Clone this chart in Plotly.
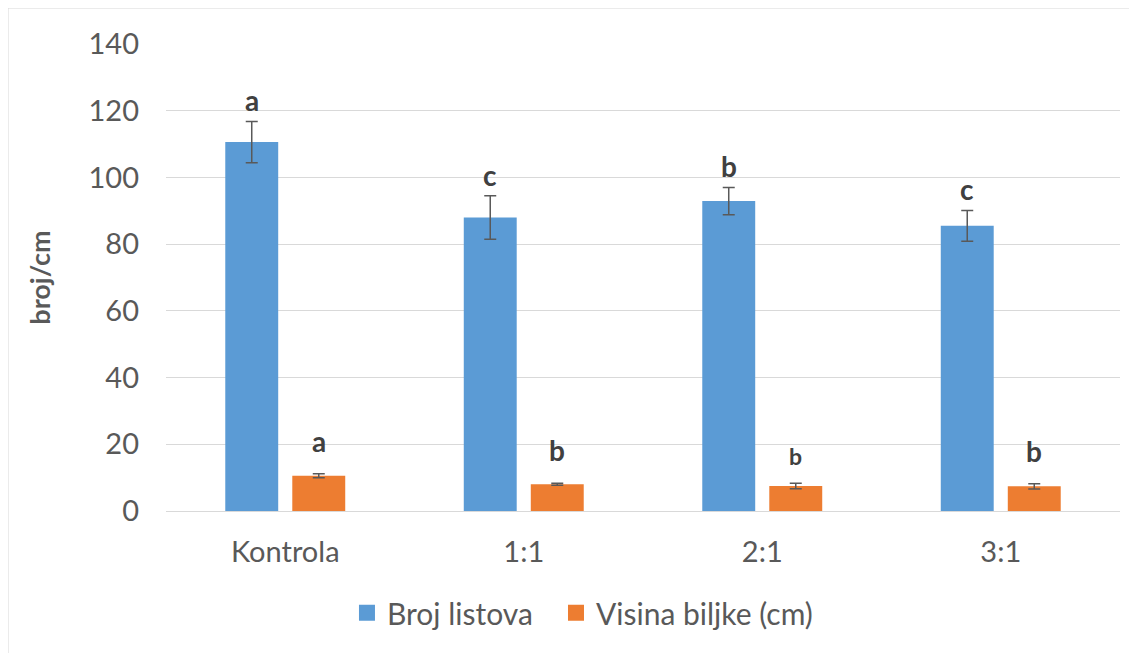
import plotly.graph_objects as go

# Data
categories = ["Kontrola", "1:1", "2:1", "3:1"]

broj_listova = [110.6, 88.0, 92.9, 85.5]
broj_listova_err = [6.2, 6.5, 4.1, 4.6]
broj_listova_letters = ["a", "c", "b", "c"]

visina_biljke = [10.6, 8.0, 7.5, 7.4]
visina_biljke_err = [0.6, 0.3, 0.8, 0.8]
visina_biljke_letters = ["a", "b", "b", "b"]

y_ticks = [0, 20, 40, 60, 80, 100, 120, 140]

FONT = "Lato"
TEXT_GREY = "#595959"
LETTER_COLOR = "#404040"
GRID = "#d9d9d9"
BLUE = "#5b9bd5"
ORANGE = "#ed7d31"

BARGAP = 0.438
fig = go.Figure()

fig.add_trace(go.Bar(
    x=categories, y=broj_listova, name="Broj listova", showlegend=False,
    marker=dict(color=BLUE, line=dict(width=0)),
    error_y=dict(type="data", array=broj_listova_err, color=TEXT_GREY,
                 thickness=1.5, width=6),
))
fig.add_trace(go.Bar(
    x=categories, y=visina_biljke, name="Visina biljke (cm)", showlegend=False,
    marker=dict(color=ORANGE, line=dict(width=0)),
    error_y=dict(type="data", array=visina_biljke_err, color=TEXT_GREY,
                 thickness=1.5, width=6),
))

# legend entries with square swatches, one legend each so spacing can be set
for name, color, leg in [("Broj listova", BLUE, "legend"),
                         ("Visina biljke (cm)", ORANGE, "legend2")]:
    fig.add_trace(go.Scatter(
        x=[None], y=[None], mode="markers", name=name, legend=leg,
        marker=dict(symbol="square", size=17, color=color),
    ))

# significance letters above error bars
annotations = []
bar_offset = (1 - BARGAP) / 4  # centre of each bar relative to category
for i, cat in enumerate(categories):
    annotations.append(dict(
        x=i - bar_offset, y=broj_listova[i] + broj_listova_err[i],
        xref="x", yref="y", text="<b>%s</b>" % broj_listova_letters[i],
        showarrow=False, yanchor="bottom", yshift=2,
        font=dict(family=FONT, size=28, color=LETTER_COLOR),
    ))
    small = (i == 2)
    annotations.append(dict(
        x=i + bar_offset, y=visina_biljke[i] + visina_biljke_err[i],
        xref="x", yref="y", text="<b>%s</b>" % visina_biljke_letters[i],
        showarrow=False, yanchor="bottom", yshift=11 if small else 14,
        font=dict(family=FONT, size=23 if small else 28, color=LETTER_COLOR),
    ))

legend_style = dict(orientation="h", xanchor="left", xref="paper",
                    y=-0.218, yanchor="middle",
                    font=dict(family=FONT, size=30, color=TEXT_GREY))

# the page body keeps the browser's 8px margin, so margins are shifted
fig.update_layout(
    width=1137, height=653,
    paper_bgcolor="white", plot_bgcolor="white",
    margin=dict(l=158, r=25, t=36, b=150, autoexpand=False),
    font=dict(family=FONT, color=TEXT_GREY, size=29),
    barmode="group", bargap=BARGAP, bargroupgap=0.21,
    showlegend=True,
    legend=dict(x=0.1897, **legend_style),
    legend2=dict(x=0.4088, **legend_style),
    annotations=annotations,
    shapes=[dict(type="rect", xref="paper", yref="paper",
                 x0=-0.1656, x1=1.05, y0=-0.40, y1=1.077,
                 line=dict(color=GRID, width=1), fillcolor="rgba(0,0,0,0)",
                 layer="below")],
)

fig.update_xaxes(
    showgrid=False, showline=False, ticks="", zeroline=False,
    automargin=False, ticklabelstandoff=21,
    tickfont=dict(family=FONT, size=29, color=TEXT_GREY),
)
fig.update_yaxes(
    range=[0, 140], tickvals=y_ticks, showgrid=True, gridcolor=GRID,
    gridwidth=1.3, zeroline=True, zerolinecolor=GRID, zerolinewidth=1.3,
    showline=False, ticks="", ticklabelstandoff=26, automargin=False,
    tickfont=dict(family=FONT, size=29, color=TEXT_GREY),
    title=dict(text="<b>broj/cm</b>", standoff=30,
               font=dict(family=FONT, size=27, color=TEXT_GREY)),
)

fig.write_html("out.html")
